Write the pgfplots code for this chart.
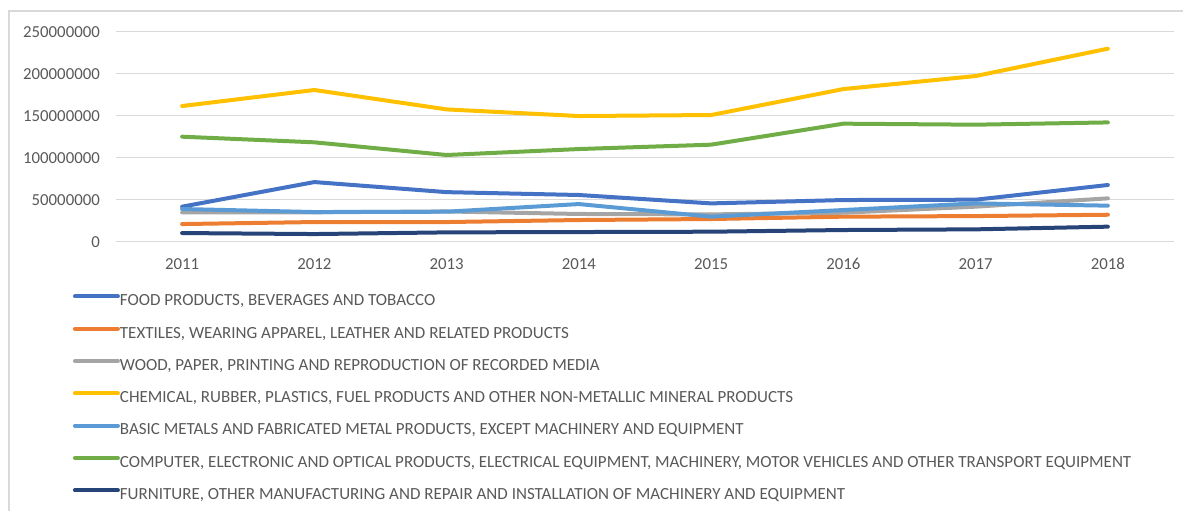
\documentclass[border=0pt]{standalone}
\usepackage{pgfplots}
\pgfplotsset{compat=1.18}
\usepackage{fontspec}
\setmainfont{Carlito}
\definecolor{cBlue}{HTML}{4472C4}
\definecolor{cOrange}{HTML}{ED7D31}
\definecolor{cGray}{HTML}{A5A5A5}
\definecolor{cGold}{HTML}{FFC000}
\definecolor{cLBlue}{HTML}{5B9BD5}
\definecolor{cGreen}{HTML}{70AD47}
\definecolor{cNavy}{HTML}{264478}
\definecolor{txt}{HTML}{595959}
\definecolor{gridc}{HTML}{D9D9D9}
\begin{document}
\begin{tikzpicture}[x=1pt,y=1pt]
\path[use as bounding box] (0,0) rectangle (1183,511);
\draw[gridc, line width=1.2pt] (9,0) -- (9,500) -- (1183,500);
\begin{axis}[
  at={(116pt,269.3pt)}, anchor=south west,
  scale only axis, width=1058pt, height=210pt,
  xmin=-0.5, xmax=7.5, ymin=0, ymax=250000000,
  xtick={0,...,7},
  xticklabels={2011,2012,2013,2014,2015,2016,2017,2018},
  ytick={0,50000000,100000000,150000000,200000000,250000000},
  scaled y ticks=false,
  yticklabel={\pgfmathprintnumber[fixed,1000 sep={},assume math mode=true]{\tick}},
  axis line style={draw=none},
  major tick length=0pt,
  xmajorgrids=false, ymajorgrids=true,
  grid style={draw=gridc, line width=1.2pt},
  tick label style={font=\fontsize{16.8}{20}\selectfont, text=txt, inner sep=0pt},
  yticklabel style={anchor=east, xshift=-16pt},
  xticklabel style={anchor=north, yshift=-16.5pt},
  every axis plot/.append style={line width=4pt, line join=round, line cap=round, mark=none},
  legend cell align=left,
  legend style={draw=none, fill=none, at={(axis description cs:-0.0407,-0.25)}, anchor=north west,
    inner sep=0pt, outer sep=0pt, row sep=16.8pt,
    font=\fontsize{17}{20}\selectfont, text=txt,
    nodes={inner sep=0pt, text height=11.5pt, text depth=4pt}},
  legend image code/.code={\draw[#1, line width=4pt, line cap=round] (2pt,5.5pt) -- (38pt,5.5pt); \path (0pt,5.5pt) -- (43pt,5.5pt);},
]
\addplot[cBlue] coordinates {(0,41.7e6) (1,71.0e6) (2,59.0e6) (3,55.6e6) (4,45.6e6) (5,49.6e6) (6,50.0e6) (7,67.5e6)};
\addlegendentry{FOOD PRODUCTS, BEVERAGES AND TOBACCO}
\addplot[cOrange] coordinates {(0,21.0e6) (1,23.4e6) (2,23.4e6) (3,25.8e6) (4,27.0e6) (5,29.8e6) (6,30.5e6) (7,32.1e6)};
\addlegendentry{TEXTILES, WEARING APPAREL, LEATHER AND RELATED PRODUCTS}
\addplot[cGray] coordinates {(0,34.9e6) (1,35.0e6) (2,36.0e6) (3,33.0e6) (4,32.5e6) (5,34.5e6) (6,41.7e6) (7,51.6e6)};
\addlegendentry{WOOD, PAPER, PRINTING AND REPRODUCTION OF RECORDED MEDIA}
\addplot[cGold] coordinates {(0,161.5e6) (1,180.6e6) (2,157.5e6) (3,149.6e6) (4,150.8e6) (5,181.7e6) (6,197.2e6) (7,229.8e6)};
\addlegendentry{CHEMICAL, RUBBER, PLASTICS, FUEL PRODUCTS AND OTHER NON-METALLIC MINERAL PRODUCTS}
\addplot[cLBlue] coordinates {(0,38.9e6) (1,35.3e6) (2,35.7e6) (3,44.8e6) (4,29.8e6) (5,37.7e6) (6,45.6e6) (7,42.9e6)};
\addlegendentry{BASIC METALS AND FABRICATED METAL PRODUCTS, EXCEPT MACHINERY AND EQUIPMENT}
\addplot[cGreen] coordinates {(0,125.0e6) (1,118.3e6) (2,103.2e6) (3,110.3e6) (4,115.5e6) (5,140.5e6) (6,139.3e6) (7,142.0e6)};
\addlegendentry{COMPUTER, ELECTRONIC AND OPTICAL PRODUCTS, ELECTRICAL EQUIPMENT, MACHINERY, MOTOR VEHICLES AND OTHER TRANSPORT EQUIPMENT}
\addplot[cNavy] coordinates {(0,10.3e6) (1,9.1e6) (2,11.1e6) (3,11.5e6) (4,11.9e6) (5,13.9e6) (6,14.7e6) (7,17.9e6)};
\addlegendentry{FURNITURE, OTHER MANUFACTURING AND REPAIR AND INSTALLATION OF MACHINERY AND EQUIPMENT}
\end{axis}
\end{tikzpicture}
\end{document}
